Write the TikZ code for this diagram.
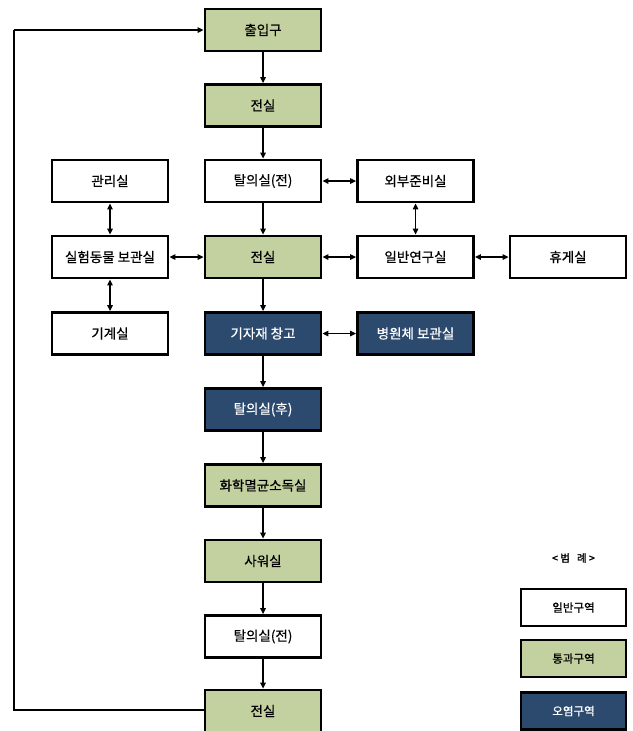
\documentclass[tikz,border=0pt]{standalone}
\usepackage{fontspec}
\setmainfont{Noto Sans CJK KR}[FakeBold=0.6]
\newfontfamily\titlefont{Noto Sans CJK KR}[FakeBold=2]
\usetikzlibrary{arrows.meta}
\definecolor{passg}{RGB}{195,208,160}
\definecolor{contam}{RGB}{44,74,110}
\tikzset{
  box/.style={draw=black, line width=2.8pt, minimum width=116pt, minimum height=42pt, inner sep=0pt, font=\fontsize{13.5}{15}\selectfont, text=black, fill=white},
  gen/.style={box},
  pass/.style={box, fill=passg},
  cont/.style={box, fill=contam, text=white},
  lgd/.style={box, minimum width=105pt, minimum height=37pt, font=\fontsize{11.5}{13}\selectfont},
  arr/.style={line width=1.3pt, -{Triangle[length=6pt,width=5.5pt]}},
  biarr/.style={line width=1.3pt, {Triangle[length=6pt,width=5.5pt]}-{Triangle[length=6pt,width=5.5pt]}},
  ln/.style={line width=1.3pt}
}
\begin{document}
\begin{tikzpicture}[x=1pt,y=-1pt]
\useasboundingbox (0,0) rectangle (632,731);
% center column
\node[pass] (c1) at (263,30) {출입구};
\node[pass] (c2) at (263,105.5) {전실};
\node[gen]  (c3) at (263,181) {탈의실(전)};
\node[pass] (c4) at (263,257) {전실};
\node[cont] (c5) at (263,333.5) {기자재 창고};
\node[cont] (c6) at (263,409.5) {탈의실(후)};
\node[pass] (c7) at (263,485.5) {화학멸균소독실};
\node[pass] (c8) at (263,561) {사워실};
\node[gen]  (c9) at (263,636.5) {탈의실(전)};
\node[pass] (c10) at (263,711) {전실};
% left column
\node[gen] (l1) at (110,181) {관리실};
\node[gen] (l2) at (110,257) {실험동물 보관실};
\node[gen] (l3) at (110,333.5) {기계실};
% right column
\node[gen] (r1) at (415.5,181) {외부준비실};
\node[gen] (r2) at (415.5,257) {일반연구실};
\node[cont] (r3) at (415.5,333.5) {병원체 보관실};
\node[gen] (rr) at (568,257) {휴게실};
% legend
\node[font=\fontsize{10.5}{12}\selectfont] (lt) at (573.5,558) {\titlefont < 범 \ \ 례 >};
\node[lgd] (g1) at (573.5,607.5) {일반구역};
\node[lgd, fill=passg] (g2) at (573.5,658.5) {통과구역};
\node[lgd, fill=contam, text=white] (g3) at (573.5,711) {오염구역};
% flow arrows
\draw[arr] (c1) -- (c2);
\draw[arr] (c2) -- (c3);
\draw[arr] (c3) -- (c4);
\draw[arr] (c4) -- (c5);
\draw[arr] (c5) -- (c6);
\draw[arr] (c6) -- (c7);
\draw[arr] (c7) -- (c8);
\draw[arr] (c8) -- (c9);
\draw[arr] (c9) -- (c10);
% bidirectional
\draw[biarr] (l1) -- (l2);
\draw[biarr] (l2) -- (l3);
\draw[biarr] (l2) -- (c4);
\draw[biarr] (c3) -- (r1);
\draw[biarr] (r1) -- (r2);
\draw[biarr] (c4) -- (r2);
\draw[biarr] (r2) -- (rr);
\draw[biarr] (c5) -- (r3);
% loop back
\coordinate (lb) at (14,710);
\coordinate (ltop) at (14,30);
\draw[ln] (c10.west |- lb) -- (lb) -- (ltop);
\draw[arr] (ltop) -- (c1.west);
\end{tikzpicture}
\end{document}
